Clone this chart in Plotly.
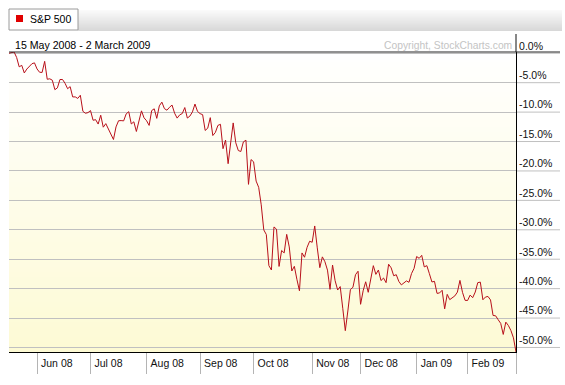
import pandas as pd
import plotly.graph_objects as go

# ---------------- data: S&P 500 daily closes, 15 May 2008 - 2 March 2009 ----------------
close_may08 = [1423.57, 1425.35, 1426.63, 1413.40, 1390.71, 1394.35, 1375.93, 1385.35, 1390.84, 1398.26, 1400.38]
close_jun08 = [1385.67, 1377.65, 1377.20, 1404.05, 1360.68, 1361.76, 1358.44, 1335.49, 1339.87, 1360.03, 1360.14,
               1350.93, 1337.81, 1342.83, 1317.93, 1318.00, 1314.29, 1321.97, 1283.15, 1278.38, 1280.00]
close_jul08 = [1284.91, 1261.52, 1262.90, 1252.31, 1273.70, 1244.69, 1253.39, 1239.49, 1228.30, 1214.91, 1245.36,
               1260.32, 1260.68, 1260.00, 1277.00, 1282.19, 1252.54, 1257.76, 1234.37, 1263.20, 1284.26, 1267.38]
close_aug08 = [1260.31, 1249.01, 1284.88, 1289.19, 1266.07, 1296.32, 1305.32, 1289.59, 1285.83, 1292.93, 1298.20,
               1278.60, 1266.69, 1274.54, 1277.72, 1292.20, 1266.84, 1271.51, 1281.66, 1300.68, 1282.83]
close_sep08 = [1277.58, 1274.98, 1236.83, 1242.31, 1267.79, 1224.51, 1232.04, 1249.05, 1251.70, 1192.70, 1213.60,
               1156.39, 1206.51, 1255.08, 1207.09, 1188.22, 1185.87, 1209.18, 1213.27, 1106.39, 1166.36]
close_oct08 = [1161.06, 1114.28, 1099.23, 1056.89, 996.23, 984.94, 909.92, 899.22, 1003.35, 998.01, 907.84,
               946.43, 940.55, 985.40, 955.05, 896.78, 908.11, 876.77, 848.92, 940.51, 930.09, 954.09, 968.75]
close_nov08 = [966.30, 1005.75, 952.77, 904.88, 930.99, 919.21, 898.95, 852.30, 911.29, 873.29, 850.75,
               859.12, 806.58, 752.44, 800.03, 851.81, 857.39, 887.68, 896.24]
close_dec08 = [816.21, 848.81, 870.74, 845.22, 876.07, 909.70, 888.67, 899.24, 873.59, 879.73, 868.57,
               913.18, 904.42, 885.28, 887.88, 871.63, 863.16, 868.15, 872.80, 869.42, 890.64, 903.25]
close_jan09 = [931.80, 927.45, 934.70, 906.65, 909.73, 890.35, 870.26, 871.79, 842.62, 843.74, 850.12,
               805.22, 840.24, 827.50, 831.95, 836.57, 845.71, 874.09, 845.14, 825.88]
close_feb09 = [825.44, 838.51, 832.23, 845.85, 868.60, 869.89, 827.16, 833.74, 835.19, 826.84, 789.17,
               788.42, 778.94, 770.05, 743.33, 773.14, 764.90, 752.83, 735.09]
close_mar09 = [700.82]

market_holidays = ["2008-05-26", "2008-07-04", "2008-09-01", "2008-11-27",
                   "2008-12-25", "2009-01-01", "2009-01-19", "2009-02-16"]
month_labels = ["Jun 08", "Jul 08", "Aug 08", "Sep 08", "Oct 08", "Nov 08", "Dec 08", "Jan 09", "Feb 09"]
y_ticks = [0, -5, -10, -15, -20, -25, -30, -35, -40, -45, -50]
y_tick_labels = ["0.0%", "-5.0%", "-10.0%", "-15.0%", "-20.0%", "-25.0%",
                 "-30.0%", "-35.0%", "-40.0%", "-45.0%", "-50.0%"]

series_name = "S&P 500"
period_text = "15 May 2008 - 2 March 2009"
copyright_text = "Copyright, StockCharts.com"

closes = (close_may08 + close_jun08 + close_jul08 + close_aug08 + close_sep08 + close_oct08 +
          close_nov08 + close_dec08 + close_jan09 + close_feb09 + close_mar09)
dates = pd.bdate_range("2008-05-15", "2009-03-02", freq="C", holidays=market_holidays)
dates = [d.strftime("%Y-%m-%d") for d in dates]
assert len(dates) == len(closes)
pct = [(c / closes[0] - 1.0) * 100.0 for c in closes]

# first trading day of each month -> tick positions
month_first = []
seen = set()
for d in dates:
    if d[:7] not in seen:
        seen.add(d[:7])
        month_first.append(d)
tick_dates = month_first[1:]            # Jun 08 ... Mar 09
tick_text = month_labels + [""]

# ---------------- geometry helpers (pixel -> paper) ----------------
W, H = 565, 385
L, R, T, B = 9, 516, 52, 352


def px_x(px):
    return (px - L) / (R - L)


def px_y(py):
    return (B - py) / (B - T)


FONT = "Liberation Sans, Arial, sans-serif"
ymin, ymax = min(pct), max(pct)

fig = go.Figure()
fig.add_trace(go.Scatter(x=dates, y=pct, mode="lines", name=series_name,
                         line=dict(color="#b8101a", width=1), showlegend=False,
                         hovertemplate="%{x}: %{y:.1f}%<extra></extra>"))

shapes = []
# plot background gradient (white -> pale yellow)
n = 60
top_c, bot_c = (255, 255, 255), (253, 250, 212)
for i in range(n):
    f = (i + 0.5) / n
    c = tuple(round(top_c[k] + (bot_c[k] - top_c[k]) * f) for k in range(3))
    shapes.append(dict(type="rect", xref="paper", yref="paper", x0=0, x1=1,
                       y0=1 - (i + 1) / n, y1=1 - i / n, line=dict(width=0),
                       fillcolor="rgb(%d,%d,%d)" % c, layer="below"))
# header bar gradient
hb_top, hb_bot = 10, 31
for i in range(hb_bot - hb_top):
    f = i / (hb_bot - hb_top - 1)
    g = round(250 - (250 - 216) * f)
    shapes.append(dict(type="rect", xref="paper", yref="paper", x0=px_x(78), x1=px_x(562),
                       y0=px_y(hb_top + i + 1), y1=px_y(hb_top + i), line=dict(width=0),
                       fillcolor="rgb(%d,%d,%d)" % (g, g, g), layer="below"))
# tab
shapes.append(dict(type="rect", xref="paper", yref="paper", x0=px_x(9), x1=px_x(78),
                   y0=px_y(30), y1=px_y(9), line=dict(color="#9a9a9a", width=1), fillcolor="white"))
shapes.append(dict(type="rect", xref="paper", yref="paper", x0=px_x(16), x1=px_x(23),
                   y0=px_y(22), y1=px_y(15), line=dict(width=0), fillcolor="#e00000"))
# gridline extensions under the right-hand labels
for v in y_ticks:
    yp = (v - ymin) / (ymax - ymin)
    shapes.append(dict(type="line", xref="paper", yref="paper", x0=1, x1=px_x(560),
                       y0=yp, y1=yp, line=dict(color="#c0c0c0", width=1), layer="below"))
# top border and right axis extension
shapes.append(dict(type="line", xref="paper", yref="paper", x0=0, x1=px_x(560), y0=1, y1=1,
                   line=dict(color="#222222", width=1)))
shapes.append(dict(type="line", xref="paper", yref="paper", x0=1, x1=1, y0=1, y1=px_y(34),
                   line=dict(color="#111111", width=1)))

annotations = [
    dict(text=series_name, xref="paper", yref="paper", x=px_x(28), y=px_y(19.5), xanchor="left",
         yanchor="middle", showarrow=False, font=dict(family=FONT, size=10.5, color="#000000")),
    dict(text=period_text, xref="paper", yref="paper", x=px_x(13), y=px_y(45.5), xanchor="left",
         yanchor="middle", showarrow=False, font=dict(family=FONT, size=10.6, color="#000000")),
    dict(text=copyright_text, xref="paper", yref="paper", x=px_x(514), y=px_y(45.5), xanchor="right",
         yanchor="middle", showarrow=False, font=dict(family=FONT, size=10.3, color="#c4c4c4")),
]

fig.update_layout(
    width=W, height=H, autosize=False,
    margin=dict(l=L, r=W - R, t=T, b=H - B, pad=0),
    paper_bgcolor="white", plot_bgcolor="rgba(0,0,0,0)",
    font=dict(family=FONT, size=10.5, color="#111111"),
    shapes=shapes, annotations=annotations, showlegend=False,
    xaxis=dict(type="category", range=[0, len(dates) - 1], showgrid=False, zeroline=False,
               showline=True, linecolor="#000000", linewidth=1,
               tickmode="array", tickvals=tick_dates, ticktext=tick_text,
               ticks="outside", ticklen=21, tickcolor="#b4b4b4", tickwidth=1,
               ticklabelposition="outside right", ticklabelstandoff=1, ticklabelshift=3,
               tickfont=dict(family=FONT, size=10.5, color="#111111")),
    yaxis=dict(side="right", range=[ymin, ymax], showgrid=True, gridcolor="#c0c0c0", gridwidth=1,
               zeroline=False, showline=True, linecolor="#000000", linewidth=1,
               tickmode="array", tickvals=y_ticks, ticktext=y_tick_labels,
               ticks="", ticklabelposition="outside top",
               tickfont=dict(family=FONT, size=10.5, color="#111111")),
)

fig.write_html("out.html", config={"displayModeBar": False},
               post_script="document.body.style.margin='0';")
